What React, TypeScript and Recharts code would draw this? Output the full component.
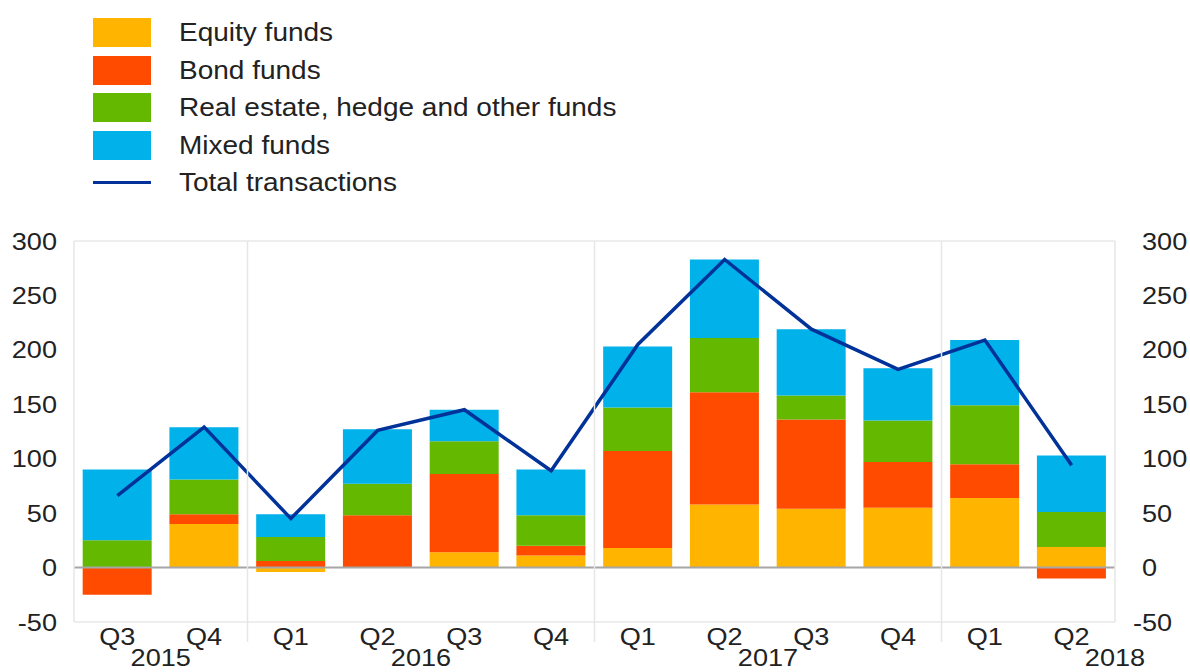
import React from "react";
import {
  ComposedChart,
  Bar,
  Line,
  XAxis,
  YAxis,
  CartesianGrid,
  ReferenceLine,
} from "recharts";

const QUARTERS = ["Q3", "Q4", "Q1", "Q2", "Q3", "Q4", "Q1", "Q2", "Q3", "Q4", "Q1", "Q2"];
// year label sits on the right edge of the marked quarter
const YEAR_MARKS = ["2015", "", "", "2016", "", "", "", "2017", "", "", "", "2018"];
// separator drawn on the left edge of the first quarter of a year
const YEAR_START = [false, false, true, false, false, false, true, false, false, false, true, false];

const EQUITY = [0, 40, -4, 0, 14, 11, 18, 58, 54, 55, 64, 19];
const BOND = [-25, 9, 6, 48, 72, 9, 89, 103, 82, 42, 31, -10];
const REAL_ESTATE = [25, 32, 22, 29, 30, 28, 40, 50, 22, 38, 54, 32];
const MIXED = [65, 48, 21, 50, 29, 42, 56, 72, 61, 48, 60, 52];
const TOTAL = [66, 129, 45, 126, 145, 89, 205, 283, 219, 182, 209, 94];

const Y_TICKS = [-50, 0, 50, 100, 150, 200, 250, 300];

const COLORS = {
  equity: "#FFB400",
  bond: "#FF4B00",
  real: "#65B800",
  mixed: "#00B1EA",
  total: "#003299",
};

const FONT = "'Liberation Sans', Arial, Helvetica, sans-serif";
const SX = 1.13;

const data = QUARTERS.map((q, i) => ({
  q: `${q}-${i}`,
  quarter: q,
  equity: EQUITY[i],
  bond: BOND[i],
  real: REAL_ESTATE[i],
  mixed: MIXED[i],
  total: TOTAL[i],
}));

const LEGEND = [
  { label: "Equity funds", color: COLORS.equity, type: "box" },
  { label: "Bond funds", color: COLORS.bond, type: "box" },
  { label: "Real estate, hedge and other funds", color: COLORS.real, type: "box" },
  { label: "Mixed funds", color: COLORS.mixed, type: "box" },
  { label: "Total transactions", color: COLORS.total, type: "line" },
];

const LeftTick = (props: any) => {
  const { x, y, payload } = props;
  return (
    <text
      transform={`translate(${x},${y}) scale(${SX},1)`}
      textAnchor="end"
      dy="0.36em"
      fontSize={24}
      fontFamily={FONT}
      fill="#222"
    >
      {payload.value}
    </text>
  );
};

const RightTick = (props: any) => {
  const { x, y, payload } = props;
  const v = payload.value as number;
  return (
    <g transform={`translate(${x},${y}) scale(${SX},1)`}>
      {v < 0 && (
        <text textAnchor="end" dy="0.36em" fontSize={24} fontFamily={FONT} fill="#222">
          -
        </text>
      )}
      <text textAnchor="start" dy="0.36em" fontSize={24} fontFamily={FONT} fill="#222">
        {Math.abs(v)}
      </text>
    </g>
  );
};

const QuarterTick = (props: any) => {
  const { x, y, payload, index } = props;
  const half = payload.offset || 43.4;
  const year = YEAR_MARKS[index];
  return (
    <g>
      {YEAR_START[index] && (
        <line x1={x - half} x2={x - half} y1={y - 381} y2={y + 20} stroke="#e6e6e6" strokeWidth={1.5} />
      )}
      <text
        transform={`translate(${x},${y + 23}) scale(${SX},1)`}
        textAnchor="middle"
        fontSize={24}
        fontFamily={FONT}
        fill="#222"
      >
        {QUARTERS[index]}
      </text>
      {year && (
        <text
          transform={`translate(${x + half},${y + 44}) scale(${SX},1)`}
          textAnchor="middle"
          fontSize={24}
          fontFamily={FONT}
          fill="#222"
        >
          {year}
        </text>
      )}
    </g>
  );
};

export default function App() {
  return (
    <div
      style={{
        position: "absolute",
        left: 0,
        top: 0,
        width: 1190,
        height: 672,
        overflow: "hidden",
        background: "#fff",
      }}
    >
      <div style={{ position: "absolute", left: 93, top: 14, zIndex: 2 }}>
        {LEGEND.map((item) => (
          <div
            key={item.label}
            style={{ display: "flex", alignItems: "center", height: 37.5 }}
          >
            {item.type === "box" ? (
              <div style={{ width: 58, height: 29, background: item.color }} />
            ) : (
              <div style={{ width: 58, height: 29, display: "flex", alignItems: "center" }}>
                <div style={{ width: 58, height: 3, background: item.color }} />
              </div>
            )}
            <span
              style={{
                marginLeft: 28,
                fontFamily: FONT,
                fontSize: 25,
                color: "#222",
                whiteSpace: "nowrap",
                display: "inline-block",
                transform: "scaleX(1.12)",
                transformOrigin: "left center",
              }}
            >
              {item.label}
            </span>
          </div>
        ))}
      </div>
      <ComposedChart
        width={1190}
        height={680}
        data={data}
        stackOffset="sign"
        barCategoryGap="10%"
        margin={{ top: 241, right: 0, bottom: 0, left: 0 }}
      >
        <CartesianGrid vertical={false} stroke="#e8e8e8" strokeWidth={1.5} />
        <XAxis
          dataKey="q"
          height={58}
          axisLine={false}
          tickLine={false}
          tickSize={0}
          tickMargin={0}
          interval={0}
          tick={<QuarterTick />}
        />
        <YAxis
          yAxisId="left"
          orientation="left"
          width={74}
          domain={[-50, 300]}
          ticks={Y_TICKS}
          allowDataOverflow
          axisLine={{ stroke: "#e6e6e6", strokeWidth: 1.5 }}
          tickLine={false}
          tickSize={0}
          tickMargin={17}
          tick={<LeftTick />}
        />
        <YAxis
          yAxisId="right"
          orientation="right"
          width={75}
          domain={[-50, 300]}
          ticks={Y_TICKS}
          allowDataOverflow
          axisLine={{ stroke: "#e6e6e6", strokeWidth: 1.5 }}
          tickLine={false}
          tickSize={0}
          tickMargin={27}
          tick={<RightTick />}
        />
        <Bar yAxisId="left" dataKey="equity" stackId="a" fill={COLORS.equity} isAnimationActive={false} />
        <Bar yAxisId="left" dataKey="bond" stackId="a" fill={COLORS.bond} isAnimationActive={false} />
        <Bar yAxisId="left" dataKey="real" stackId="a" fill={COLORS.real} isAnimationActive={false} />
        <Bar yAxisId="left" dataKey="mixed" stackId="a" fill={COLORS.mixed} isAnimationActive={false} />
        <ReferenceLine yAxisId="left" y={0} stroke="#a6a6a6" strokeWidth={2} />
        <Line
          yAxisId="left"
          dataKey="total"
          stroke={COLORS.total}
          strokeWidth={3.5}
          dot={false}
          activeDot={false}
          isAnimationActive={false}
        />
      </ComposedChart>
    </div>
  );
}
